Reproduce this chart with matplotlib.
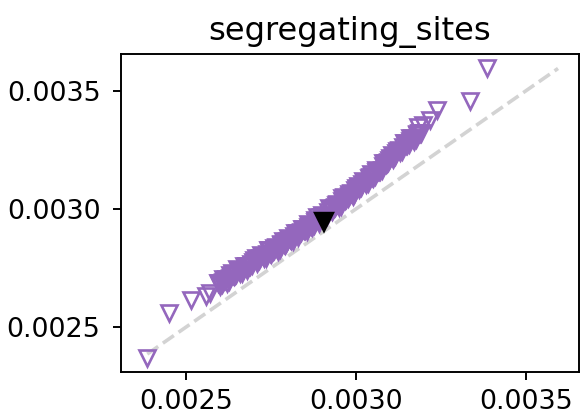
import numpy as np
import matplotlib
matplotlib.use("Agg")
import matplotlib.pyplot as plt

# quantile pairs (x: reference, y: observed), values in units of 1e-6
band_x = [2595, 2605, 2615, 2625, 2635, 2645, 2655, 2665, 2675, 2685,
          2695, 2705, 2715, 2725, 2735, 2745, 2755, 2765, 2775, 2785,
          2795, 2805, 2815, 2825, 2835, 2845, 2855, 2865, 2875, 2885,
          2895, 2905, 2915, 2925, 2935, 2945, 2955, 2965, 2975, 2985,
          2995, 3005, 3015, 3025, 3035, 3045, 3055, 3065, 3075, 3085,
          3095, 3105, 3115, 3125, 3135, 3145, 3155, 3165, 3175, 3185]
band_y = [2688, 2683, 2701, 2697, 2728, 2722, 2738, 2730, 2760, 2760,
          2762, 2792, 2783, 2802, 2794, 2824, 2820, 2839, 2832, 2863,
          2854, 2871, 2866, 2899, 2897, 2916, 2908, 2933, 2933, 2964,
          2951, 2972, 2968, 3001, 3002, 3021, 3013, 3049, 3046, 3068,
          3064, 3097, 3094, 3115, 3111, 3148, 3141, 3162, 3164, 3196,
          3200, 3228, 3222, 3247, 3244, 3279, 3276, 3300, 3297, 3322]
band2_x = [2600, 2610, 2620, 2630, 2640, 2650, 2660, 2670, 2680, 2690,
           2700, 2710, 2720, 2730, 2740, 2750, 2760, 2770, 2780, 2790,
           2800, 2810, 2820, 2830, 2840, 2850, 2860, 2870, 2880, 2890,
           2900, 2910, 2920, 2930, 2940, 2950, 2960, 2970, 2980, 2990,
           3000, 3010, 3020, 3030, 3040, 3050, 3060, 3070, 3080, 3090,
           3100, 3110, 3120, 3130, 3140, 3150, 3160, 3170, 3180, 3190]
band2_y = [2673, 2704, 2688, 2719, 2715, 2745, 2729, 2758, 2742, 2768,
           2782, 2769, 2803, 2794, 2824, 2808, 2835, 2820, 2851, 2848,
           2875, 2870, 2897, 2881, 2913, 2910, 2936, 2925, 2951, 2939,
           2976, 2969, 3002, 2990, 3018, 3010, 3045, 3042, 3065, 3053,
           3087, 3086, 3119, 3106, 3134, 3129, 3165, 3160, 3195, 3192,
           3217, 3209, 3243, 3241, 3279, 3269, 3298, 3289, 3318, 3321]
band3_x = [2598, 2608, 2618, 2628, 2638, 2648, 2658, 2668, 2678, 2688,
           2698, 2708, 2718, 2728, 2738, 2748, 2758, 2768, 2778, 2788,
           2798, 2808, 2818, 2828, 2838, 2848, 2858, 2868, 2878, 2888,
           2898, 2908, 2918, 2928, 2938, 2948, 2958, 2968, 2978, 2988,
           2998, 3008, 3018, 3028, 3038, 3048, 3058, 3068, 3078, 3088,
           3098, 3108, 3118, 3128, 3138, 3148, 3158, 3168, 3178, 3188]
band3_y = [2686, 2690, 2703, 2708, 2721, 2725, 2739, 2742, 2757, 2760,
           2774, 2778, 2792, 2796, 2810, 2814, 2828, 2832, 2846, 2851,
           2865, 2870, 2884, 2889, 2904, 2909, 2924, 2929, 2944, 2950,
           2965, 2970, 2987, 2993, 3010, 3016, 3033, 3039, 3056, 3063,
           3079, 3087, 3104, 3111, 3129, 3136, 3154, 3162, 3181, 3190,
           3208, 3217, 3236, 3245, 3263, 3270, 3288, 3295, 3313, 3320]
tail_x = [2386, 2450, 2515, 2559, 2571, 3183, 3196, 3218, 3239, 3335, 3386]
tail_y = [2370, 2559, 2616, 2630, 2644, 3346, 3356, 3377, 3417, 3455, 3594]
obs_x = 2906
obs_y = 2946

title = "segregating_sites"
ticks = [0.0025, 0.0030, 0.0035]


def main() -> None:
    x = np.array(band_x + band2_x + band3_x + tail_x) * 1e-6
    y = np.array(band_y + band2_y + band3_y + tail_y) * 1e-6

    dpi = 172.8
    fig = plt.figure(figsize=(580 / dpi, 415 / dpi), dpi=dpi)
    ax = fig.add_axes([0.2086, 0.1029, 0.7894, 0.767])

    purple = "#9467bd"
    ax.plot(x, y, linestyle="none", marker="v", markersize=7,
            markerfacecolor="none", markeredgecolor=purple,
            markeredgewidth=1.1, zorder=2)

    # reference line
    lo, hi = x.min(), y.max()
    ax.plot([lo, hi], [lo, hi], linestyle="--", color="lightgray",
            linewidth=1.5, zorder=1)

    ax.plot([obs_x * 1e-6], [obs_y * 1e-6], linestyle="none", marker="v",
            markersize=7.4, color="black", zorder=3)

    vmin = min(x.min(), y.min())
    vmax = max(x.max(), y.max())
    pad = 0.05 * (vmax - vmin)
    ax.set_xlim(vmin - pad, vmax + pad)
    ax.set_ylim(vmin - pad, vmax + pad)
    ax.set_xticks(ticks)
    ax.set_yticks(ticks)
    ax.set_xticklabels([f"{t:.4f}" for t in ticks])
    ax.set_yticklabels([f"{t:.4f}" for t in ticks])
    ax.tick_params(axis="both", labelsize=11.2)
    ax.tick_params(axis="y", pad=5)
    ax.set_title(title, fontsize=13.4)

    fig.savefig("out.png", dpi=dpi)


if __name__ == "__main__":
    main()
